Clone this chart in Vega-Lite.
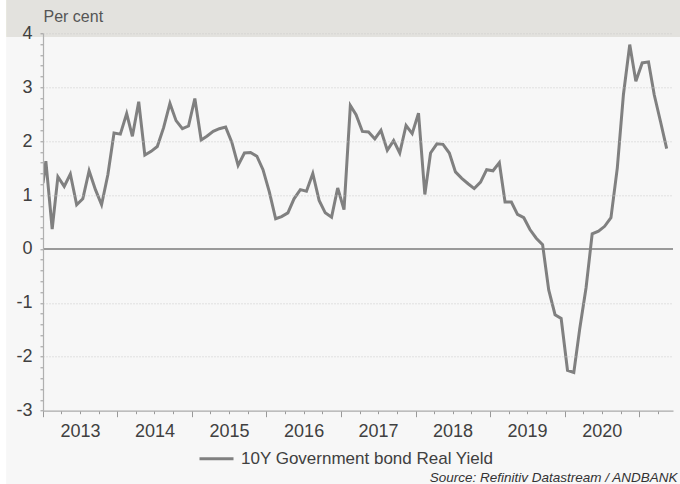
{
  "$schema": "https://vega.github.io/schema/vega-lite/v6.json",
  "autosize": {"type": "none"},
  "width": 630,
  "height": 377.4,
  "padding": {"left": 43, "top": 33.3, "right": 7, "bottom": 73.3},
  "background": "white",
  "config": {
    "view": {"stroke": null},
    "font": "Liberation Sans"
  },
  "data": {
    "values": [
      {"date": "2013-01-01", "v": 1.22},
      {"date": "2013-01-15", "v": 1.63},
      {"date": "2013-02-15", "v": 0.37},
      {"date": "2013-03-15", "v": 1.34},
      {"date": "2013-04-15", "v": 1.16},
      {"date": "2013-05-15", "v": 1.39},
      {"date": "2013-06-15", "v": 0.82},
      {"date": "2013-07-15", "v": 0.93},
      {"date": "2013-08-15", "v": 1.45},
      {"date": "2013-09-15", "v": 1.10},
      {"date": "2013-10-15", "v": 0.82},
      {"date": "2013-11-15", "v": 1.38},
      {"date": "2013-12-15", "v": 2.15},
      {"date": "2014-01-15", "v": 2.13},
      {"date": "2014-02-15", "v": 2.51},
      {"date": "2014-03-15", "v": 2.09},
      {"date": "2014-04-15", "v": 2.73},
      {"date": "2014-05-15", "v": 1.74},
      {"date": "2014-06-15", "v": 1.81},
      {"date": "2014-07-15", "v": 1.90},
      {"date": "2014-08-15", "v": 2.25},
      {"date": "2014-09-15", "v": 2.70},
      {"date": "2014-10-15", "v": 2.38},
      {"date": "2014-11-15", "v": 2.23},
      {"date": "2014-12-15", "v": 2.28},
      {"date": "2015-01-15", "v": 2.79},
      {"date": "2015-02-15", "v": 2.02},
      {"date": "2015-03-15", "v": 2.09},
      {"date": "2015-04-15", "v": 2.18},
      {"date": "2015-05-15", "v": 2.23},
      {"date": "2015-06-15", "v": 2.26},
      {"date": "2015-07-15", "v": 1.98},
      {"date": "2015-08-15", "v": 1.55},
      {"date": "2015-09-15", "v": 1.78},
      {"date": "2015-10-15", "v": 1.79},
      {"date": "2015-11-15", "v": 1.72},
      {"date": "2015-12-15", "v": 1.47},
      {"date": "2016-01-15", "v": 1.06},
      {"date": "2016-02-15", "v": 0.56},
      {"date": "2016-03-15", "v": 0.60},
      {"date": "2016-04-15", "v": 0.67},
      {"date": "2016-05-15", "v": 0.93},
      {"date": "2016-06-15", "v": 1.10},
      {"date": "2016-07-15", "v": 1.07},
      {"date": "2016-08-15", "v": 1.40},
      {"date": "2016-09-15", "v": 0.90},
      {"date": "2016-10-15", "v": 0.67},
      {"date": "2016-11-15", "v": 0.59},
      {"date": "2016-12-15", "v": 1.13},
      {"date": "2017-01-15", "v": 0.73},
      {"date": "2017-02-15", "v": 2.66},
      {"date": "2017-03-15", "v": 2.49},
      {"date": "2017-04-15", "v": 2.18},
      {"date": "2017-05-15", "v": 2.17},
      {"date": "2017-06-15", "v": 2.04},
      {"date": "2017-07-15", "v": 2.20},
      {"date": "2017-08-15", "v": 1.83},
      {"date": "2017-09-15", "v": 2.01},
      {"date": "2017-10-15", "v": 1.78},
      {"date": "2017-11-15", "v": 2.29},
      {"date": "2017-12-15", "v": 2.14},
      {"date": "2018-01-15", "v": 2.52},
      {"date": "2018-02-15", "v": 1.01},
      {"date": "2018-03-15", "v": 1.78},
      {"date": "2018-04-15", "v": 1.95},
      {"date": "2018-05-15", "v": 1.94},
      {"date": "2018-06-15", "v": 1.78},
      {"date": "2018-07-15", "v": 1.43},
      {"date": "2018-08-15", "v": 1.31},
      {"date": "2018-09-15", "v": 1.21},
      {"date": "2018-10-15", "v": 1.12},
      {"date": "2018-11-15", "v": 1.24},
      {"date": "2018-12-15", "v": 1.47},
      {"date": "2019-01-15", "v": 1.45},
      {"date": "2019-02-15", "v": 1.60},
      {"date": "2019-03-15", "v": 0.87},
      {"date": "2019-04-15", "v": 0.87},
      {"date": "2019-05-15", "v": 0.64},
      {"date": "2019-06-15", "v": 0.58},
      {"date": "2019-07-15", "v": 0.36},
      {"date": "2019-08-15", "v": 0.20},
      {"date": "2019-09-15", "v": 0.08},
      {"date": "2019-10-15", "v": -0.76},
      {"date": "2019-11-15", "v": -1.22},
      {"date": "2019-12-15", "v": -1.29},
      {"date": "2020-01-15", "v": -2.25},
      {"date": "2020-02-15", "v": -2.29},
      {"date": "2020-03-15", "v": -1.48},
      {"date": "2020-04-15", "v": -0.72},
      {"date": "2020-05-15", "v": 0.28},
      {"date": "2020-06-15", "v": 0.33},
      {"date": "2020-07-15", "v": 0.42},
      {"date": "2020-08-15", "v": 0.58},
      {"date": "2020-09-15", "v": 1.50},
      {"date": "2020-10-15", "v": 2.86},
      {"date": "2020-11-15", "v": 3.79},
      {"date": "2020-12-15", "v": 3.11},
      {"date": "2021-01-15", "v": 3.45},
      {"date": "2021-02-15", "v": 3.47},
      {"date": "2021-03-15", "v": 2.86},
      {"date": "2021-04-15", "v": 2.36},
      {"date": "2021-05-15", "v": 1.86}
    ]
  },
  "layer": [
    {
      "description": "light panel behind the whole chart",
      "mark": {"type": "rect", "color": "#f7f7f7", "clip": false},
      "encoding": {
        "x": {"datum": {"year": 2012, "month": 7, "date": 8}, "type": "temporal"},
        "x2": {"datum": {"year": 2021, "month": 9, "date": 1}},
        "y": {"datum": -5, "type": "quantitative"},
        "y2": {"datum": 4.7}
      }
    },
    {
      "description": "header strip holding the unit label",
      "mark": {"type": "rect", "color": "#e3e2de", "clip": false},
      "encoding": {
        "x": {"datum": {"year": 2012, "month": 7, "date": 8}, "type": "temporal"},
        "x2": {"datum": {"year": 2021, "month": 9, "date": 1}},
        "y": {"datum": 3.937, "type": "quantitative"},
        "y2": {"datum": 4.7}
      }
    },
    {
      "mark": {"type": "rule", "color": "#9a9a9a", "strokeWidth": 1},
      "encoding": {"y": {"datum": 0, "type": "quantitative"}}
    },
    {
      "mark": {"type": "line", "strokeWidth": 3, "clip": true},
      "encoding": {
        "x": {
          "field": "date",
          "type": "temporal",
          "scale": {"domain": [{"year": 2013, "month": 1, "date": 1}, {"year": 2021, "month": 6, "date": 15}]},
          "axis": {
            "zindex": 1,
            "tickCount": 200,
            "title": "Source: Refinitiv Datastream / ANDBANK",
            "titleFontStyle": "italic",
            "titleFontWeight": "normal",
            "titleFontSize": 13.5,
            "titleColor": "#333333",
            "titleAlign": "right",
            "titleAnchor": null,
            "titleBaseline": "alphabetic",
            "titleX": 634,
            "titleY": 70.3,
            "values": [
              {"year": 2013, "month": 1, "date": 1}, {"year": 2013, "month": 4, "date": 1}, {"year": 2013, "month": 7, "date": 1}, {"year": 2013, "month": 10, "date": 1},
              {"year": 2014, "month": 1, "date": 1}, {"year": 2014, "month": 4, "date": 1}, {"year": 2014, "month": 7, "date": 1}, {"year": 2014, "month": 10, "date": 1},
              {"year": 2015, "month": 1, "date": 1}, {"year": 2015, "month": 4, "date": 1}, {"year": 2015, "month": 7, "date": 1}, {"year": 2015, "month": 10, "date": 1},
              {"year": 2016, "month": 1, "date": 1}, {"year": 2016, "month": 4, "date": 1}, {"year": 2016, "month": 7, "date": 1}, {"year": 2016, "month": 10, "date": 1},
              {"year": 2017, "month": 1, "date": 1}, {"year": 2017, "month": 4, "date": 1}, {"year": 2017, "month": 7, "date": 1}, {"year": 2017, "month": 10, "date": 1},
              {"year": 2018, "month": 1, "date": 1}, {"year": 2018, "month": 4, "date": 1}, {"year": 2018, "month": 7, "date": 1}, {"year": 2018, "month": 10, "date": 1},
              {"year": 2019, "month": 1, "date": 1}, {"year": 2019, "month": 4, "date": 1}, {"year": 2019, "month": 7, "date": 1}, {"year": 2019, "month": 10, "date": 1},
              {"year": 2020, "month": 1, "date": 1}, {"year": 2020, "month": 4, "date": 1}, {"year": 2020, "month": 7, "date": 1}, {"year": 2020, "month": 10, "date": 1},
              {"year": 2021, "month": 1, "date": 1}, {"year": 2021, "month": 4, "date": 1}
            ],
            "labelExpr": "month(datum.value) === 6 ? timeFormat(datum.value, '%Y') : ''",
            "labelFontSize": 18,
            "labelColor": "#404040",
            "labelPadding": 9,
            "labelFlush": false,
            "labelOverlap": false,
            "grid": false,
            "domainColor": "#aaaaaa",
            "domainWidth": 1.2,
            "tickColor": "#999999",
            "tickSize": {"condition": {"test": "month(datum.value) === 0", "value": 6}, "value": 3}
          }
        },
        "y": {
          "field": "v",
          "type": "quantitative",
          "scale": {"domain": [-3, 4], "nice": false, "zero": false},
          "axis": {
            "zindex": 1,
            "tickCount": 200,
            "title": "Per cent",
            "titleAngle": 0,
            "titleAlign": "left",
            "titleAnchor": null,
            "titleBaseline": "alphabetic",
            "titleX": 0,
            "titleY": -12.3,
            "titleFontSize": 16,
            "titleFontWeight": "normal",
            "titleColor": "#555555",
            "values": [-3, -2.8, -2.6, -2.4, -2.2, -2, -1.8, -1.6, -1.4, -1.2, -1, -0.8, -0.6, -0.4, -0.2, 0, 0.2, 0.4, 0.6, 0.8, 1, 1.2, 1.4, 1.6, 1.8, 2, 2.2, 2.4, 2.6, 2.8, 3, 3.2, 3.4, 3.6, 3.8, 4],
            "labelExpr": "abs(datum.value - round(datum.value)) < 0.001 ? '' + round(datum.value) : ''",
            "labelFontSize": 18,
            "labelColor": "#404040",
            "labelPadding": 8,
            "labelOverlap": false,
            "labelFlush": false,
            "tickSize": 3,
            "tickColor": "#999999",
            "domainColor": "#b0b0b0",
            "domainWidth": 1.2,
            "grid": true,
            "gridColor": "#c8c8c8",
            "gridDash": [1, 2],
            "gridOpacity": {"condition": {"test": "abs(datum.value - round(datum.value)) < 0.001 && datum.value > -2.5 && abs(datum.value) > 0.001", "value": 1}, "value": 0}
          }
        },
        "color": {
          "datum": "10Y Government bond Real Yield",
          "type": "nominal",
          "scale": {"range": ["#808080"]},
          "legend": {
            "title": null,
            "orient": "none",
            "legendX": 155,
            "legendY": 407,
            "padding": 0,
            "symbolType": "stroke",
            "symbolSize": 1156,
            "symbolStrokeWidth": 3,
            "labelFontSize": 17,
            "labelLimit": 500,
            "labelColor": "#404040",
            "labelOffset": 6
          }
        }
      }
    }
  ]
}
